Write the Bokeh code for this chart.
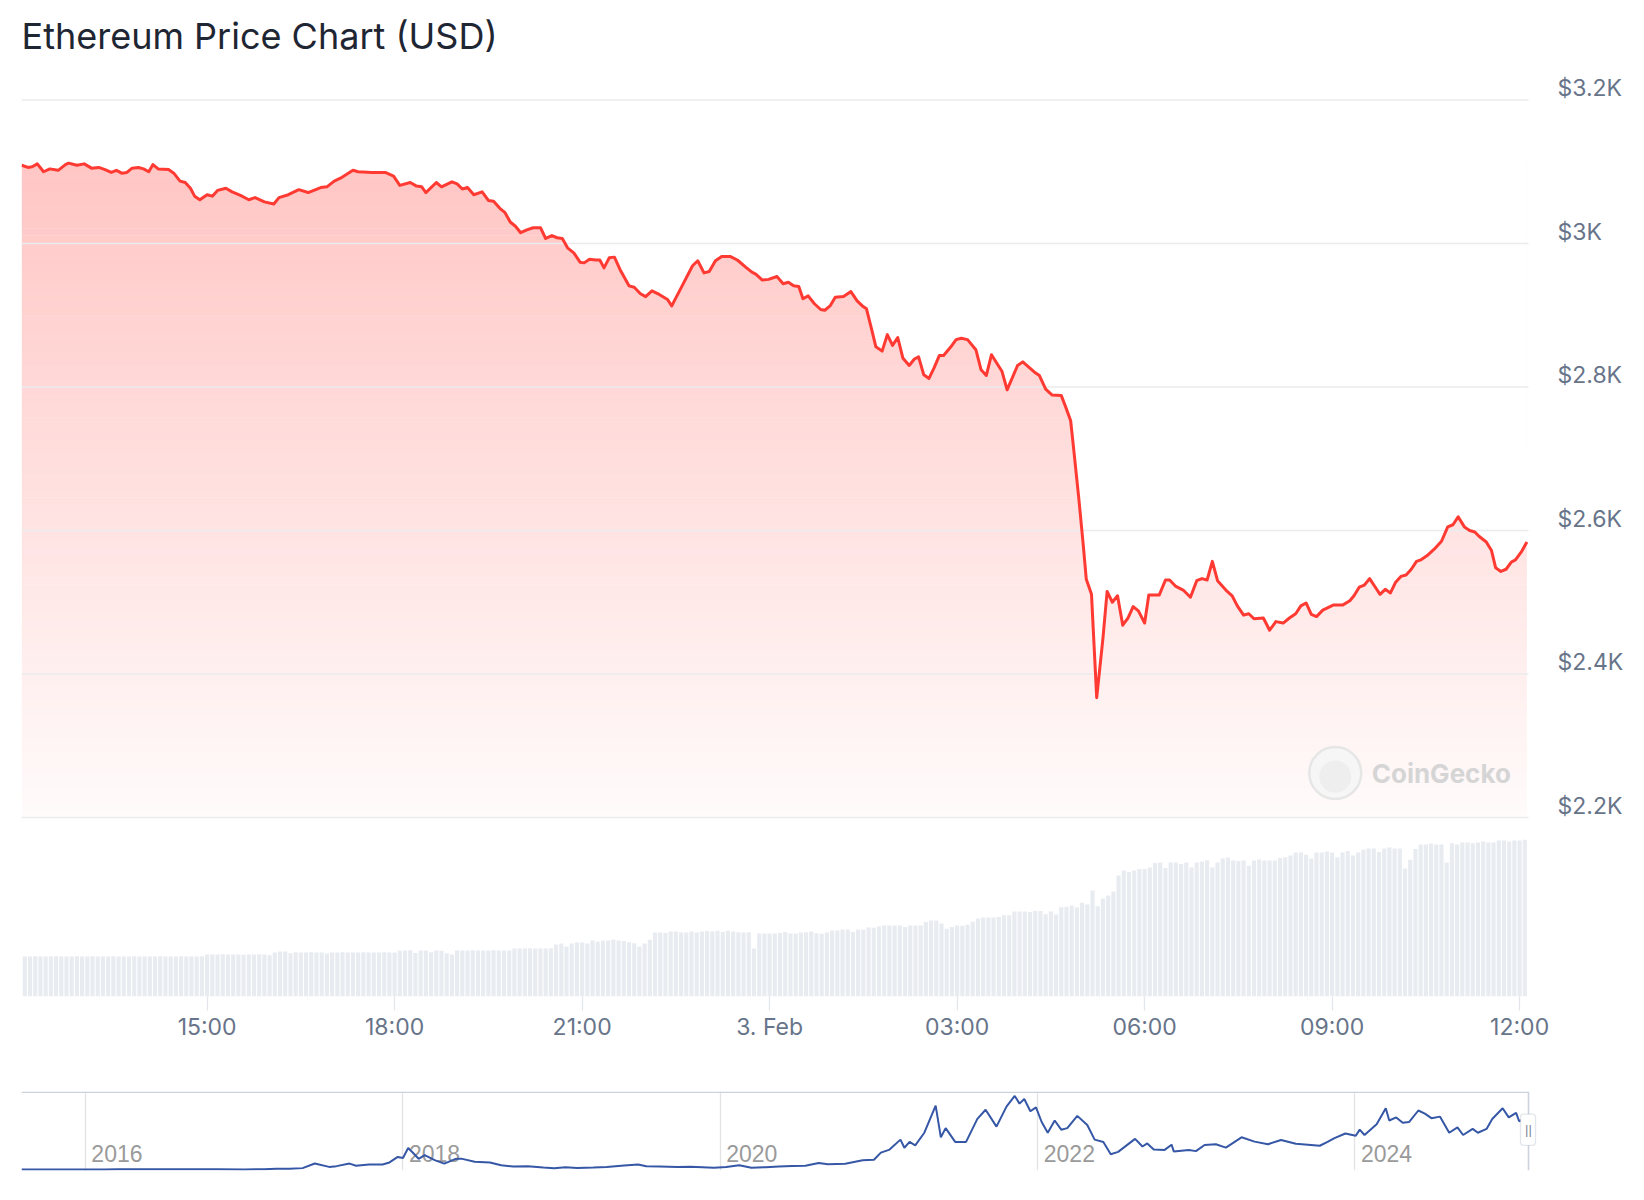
import numpy as np
import pandas as pd
from bokeh.plotting import figure
from bokeh.layouts import column
from bokeh.models import (Range1d, LinearAxis, FixedTicker, CustomJSTickFormatter,
                          Label, BoxAnnotation, Span)
from bokeh.core.properties import value
from bokeh.embed import file_html
from bokeh.resources import INLINE

# ---------------- data ----------------
TITLE = "Ethereum Price Chart (USD)"
START = pd.Timestamp("2025-02-02 12:00")

# minutes after 2 Feb 12:00 and price in USD
price_minutes = [
    2, 8, 12, 17, 23, 29, 37, 44, 47, 55,
    62, 69, 76, 82, 88, 93, 98, 103, 108, 114,
    119, 124, 128, 133, 143, 148, 154, 159, 164, 168,
    173, 180, 185, 190, 198, 204, 212, 220, 226, 235,
    244, 249, 258, 268, 277, 289, 295, 302, 308, 320,
    325, 338, 351, 359, 365, 375, 381, 386, 390, 400,
    405, 415, 420, 425, 430, 436, 444, 450, 455, 461,
    466, 471, 476, 481, 487, 493, 500, 505, 511, 516,
    521, 526, 532, 538, 542, 547, 553, 557, 561, 566,
    571, 577, 585, 590, 596, 601, 607, 614, 622, 626,
    636, 646, 651, 657, 662, 668, 674, 682, 689, 697,
    703, 707, 713, 719, 727, 733, 738, 743, 748, 752,
    757, 763, 769, 773, 778, 783, 791, 798, 804, 809,
    813, 818, 822, 828, 833, 838, 843, 848, 854, 859,
    863, 868, 873, 878, 883, 887, 894, 899, 904, 910,
    918, 923, 928, 933, 943, 948, 958, 963, 974, 979,
    985, 991, 1000, 1004, 1009, 1012, 1017, 1021, 1024, 1029,
    1034, 1040, 1044, 1049, 1054, 1059, 1064, 1069, 1074, 1080,
    1084, 1094, 1100, 1104, 1110, 1117, 1124, 1130, 1135, 1140,
    1145, 1150, 1158, 1164, 1169, 1175, 1180, 1185, 1194, 1200,
    1206, 1213, 1219, 1225, 1230, 1235, 1240, 1245, 1251, 1261,
    1270, 1277, 1281, 1286, 1291, 1296, 1301, 1306, 1311, 1316,
    1321, 1326, 1331, 1336, 1341, 1345, 1352, 1358, 1365, 1371,
    1376, 1381, 1387, 1392, 1397, 1401, 1408, 1413, 1417, 1422,
    1427, 1432, 1436, 1442, 1447,
]
price_usd = [
    3109, 3106, 3107, 3111, 3100, 3104, 3102, 3110, 3112, 3109,
    3111, 3105, 3106, 3103, 3099, 3102, 3098, 3099, 3105, 3106,
    3104, 3100, 3110, 3104, 3103, 3098, 3087, 3085, 3077, 3066,
    3061, 3068, 3066, 3074, 3077, 3072, 3067, 3061, 3064, 3058,
    3055, 3064, 3068, 3075, 3071, 3078, 3079, 3087, 3091, 3102,
    3100, 3099, 3099, 3094, 3081, 3085, 3080, 3079, 3071, 3085,
    3079, 3086, 3083, 3076, 3078, 3068, 3072, 3060, 3059, 3049,
    3043, 3030, 3024, 3015, 3019, 3022, 3022, 3007, 3011, 3008,
    3007, 2994, 2987, 2974, 2973, 2978, 2977, 2977, 2966, 2980,
    2981, 2962, 2941, 2939, 2930, 2926, 2934, 2929, 2922, 2913,
    2941, 2969, 2976, 2959, 2961, 2976, 2982, 2982, 2977, 2967,
    2960, 2957, 2949, 2950, 2954, 2944, 2946, 2941, 2940, 2923,
    2927, 2916, 2908, 2907, 2913, 2925, 2926, 2933, 2920, 2913,
    2909, 2880, 2856, 2850, 2873, 2858, 2869, 2840, 2830, 2839,
    2842, 2817, 2812, 2827, 2844, 2844, 2856, 2866, 2868, 2866,
    2852, 2824, 2816, 2845, 2822, 2796, 2830, 2835, 2821, 2816,
    2797, 2789, 2788, 2773, 2753, 2712, 2642, 2581, 2532, 2511,
    2367, 2450, 2515, 2500, 2509, 2468, 2478, 2494, 2488, 2471,
    2510, 2510, 2531, 2531, 2522, 2517, 2507, 2530, 2533, 2531,
    2557, 2530, 2517, 2509, 2495, 2482, 2484, 2477, 2478, 2461,
    2473, 2471, 2478, 2484, 2495, 2499, 2483, 2480, 2489, 2496,
    2496, 2502, 2509, 2521, 2524, 2533, 2522, 2511, 2518, 2513,
    2528, 2536, 2538, 2546, 2557, 2559, 2566, 2574, 2585, 2605,
    2608, 2619, 2605, 2600, 2598, 2592, 2584, 2572, 2548, 2543,
    2546, 2556, 2559, 2571, 2584,
]

# 24h volume (billion USD), one bar every 5 minutes from 12:05
VOLUME_FIRST_MIN = 5
VOLUME_STEP_MIN = 5
volume_busd = [
    18.0, 18.0, 18.1, 18.0, 18.0, 18.0, 18.1, 18.0, 18.0, 18.0, 18.1, 18.0,
    18.0, 18.1, 18.0, 18.0, 18.0, 18.1, 18.0, 18.0, 18.0, 18.1, 18.0, 18.0,
    18.0, 18.0, 18.1, 18.0, 18.0, 18.0, 18.1, 18.0, 18.0, 18.0, 18.1, 18.9,
    18.9, 18.9, 19.0, 18.9, 18.9, 18.9, 18.8, 18.9, 18.9, 19.0, 18.9, 18.6,
    19.8, 20.3, 20.3, 19.5, 19.9, 19.8, 19.8, 19.9, 19.8, 19.8, 19.4, 19.8,
    19.8, 19.9, 19.8, 19.8, 19.8, 19.9, 19.8, 19.8, 19.8, 19.9, 19.8, 19.8,
    20.7, 20.7, 20.8, 19.6, 20.7, 20.7, 19.9, 20.7, 20.6, 19.5, 18.9, 20.7,
    20.7, 20.7, 20.8, 20.7, 20.7, 20.7, 20.8, 20.7, 20.7, 20.7, 21.6, 21.6,
    21.6, 21.7, 21.6, 21.6, 21.6, 21.7, 23.4, 23.9, 22.5, 23.9, 24.3, 24.3,
    23.9, 25.2, 24.6, 25.2, 25.2, 25.6, 25.2, 25.0, 24.4, 24.0, 22.5, 23.9,
    25.5, 28.8, 28.8, 28.6, 29.2, 29.2, 28.8, 28.8, 29.3, 28.8, 29.2, 29.5,
    29.3, 29.6, 29.0, 29.6, 29.3, 28.9, 28.8, 28.9, 21.6, 28.4, 28.4, 28.4,
    28.4, 28.6, 29.0, 28.4, 28.4, 28.8, 28.9, 29.3, 28.5, 28.2, 28.8, 29.7,
    29.7, 30.1, 30.1, 29.0, 30.1, 30.1, 31.0, 30.9, 31.5, 32.0, 32.0, 32.0,
    32.0, 31.3, 32.0, 32.0, 32.0, 33.5, 34.2, 34.2, 32.9, 30.5, 31.3, 32.0,
    31.8, 32.3, 33.6, 35.1, 35.6, 35.6, 35.6, 35.8, 36.6, 36.6, 38.3, 38.3,
    38.3, 38.0, 38.5, 38.5, 37.0, 38.3, 36.9, 40.2, 40.4, 41.0, 40.1, 42.2,
    41.4, 47.7, 40.6, 44.1, 45.4, 47.2, 54.5, 56.7, 56.0, 56.7, 57.4, 57.4,
    58.1, 60.1, 60.3, 57.8, 60.3, 60.3, 59.6, 60.3, 58.1, 60.3, 60.8, 61.3,
    58.0, 60.3, 62.1, 62.6, 61.2, 61.0, 61.2, 58.8, 61.2, 61.6, 61.2, 61.2,
    61.2, 62.3, 62.7, 63.5, 64.8, 64.8, 63.8, 62.1, 64.8, 64.8, 65.2, 64.8,
    62.6, 64.8, 65.5, 63.4, 64.8, 66.0, 66.6, 66.6, 65.0, 66.6, 67.0, 66.6,
    66.6, 57.6, 61.5, 66.4, 68.4, 68.4, 68.8, 68.4, 68.4, 60.3, 69.0, 68.4,
    69.3, 69.3, 69.0, 69.3, 69.7, 69.3, 69.3, 70.2, 70.2, 69.8, 70.2, 70.2,
    70.5,
]

y_ticks = [2200, 2400, 2600, 2800, 3000, 3200]
y_tick_labels = ["$2.2K", "$2.4K", "$2.6K", "$2.8K", "$3K", "$3.2K"]
x_tick_times = ["2025-02-02 15:00", "2025-02-02 18:00", "2025-02-02 21:00",
                "2025-02-03 00:00", "2025-02-03 03:00", "2025-02-03 06:00",
                "2025-02-03 09:00", "2025-02-03 12:00"]
x_tick_labels = ["15:00", "18:00", "21:00", "3. Feb", "03:00", "06:00", "09:00", "12:00"]

# navigator: full price history
nav_dates = [
    "2015-08-07", "2015-09-01", "2015-11-01", "2016-01-01", "2016-02-15", "2016-03-15",
    "2016-05-01", "2016-06-15", "2016-07-15", "2016-09-01", "2016-11-01", "2017-01-01",
    "2017-02-15", "2017-03-15", "2017-04-15", "2017-05-15", "2017-06-12", "2017-07-15",
    "2017-08-01", "2017-08-31", "2017-09-15", "2017-10-15", "2017-11-15", "2017-12-01",
    "2017-12-20", "2018-01-01", "2018-01-13", "2018-01-25", "2018-02-06", "2018-02-20",
    "2018-03-15", "2018-04-06", "2018-05-01", "2018-05-15", "2018-06-15", "2018-07-20",
    "2018-08-15", "2018-09-12", "2018-10-15", "2018-11-20", "2018-12-15", "2019-01-10",
    "2019-02-06", "2019-03-15", "2019-04-15", "2019-05-25", "2019-06-26", "2019-07-15",
    "2019-08-15", "2019-09-25", "2019-10-25", "2019-12-18", "2020-01-15", "2020-02-14",
    "2020-03-13", "2020-04-15", "2020-05-15", "2020-06-15", "2020-07-15", "2020-08-15",
    "2020-09-05", "2020-10-15", "2020-11-24", "2020-12-20", "2021-01-05", "2021-01-25",
    "2021-02-19", "2021-02-28", "2021-03-12", "2021-03-25", "2021-04-15", "2021-05-11",
    "2021-05-23", "2021-06-03", "2021-06-25", "2021-07-20", "2021-08-15", "2021-09-03",
    "2021-09-28", "2021-10-21", "2021-11-09", "2021-11-20", "2021-12-01", "2021-12-15",
    "2021-12-28", "2022-01-10", "2022-01-24", "2022-02-09", "2022-02-24", "2022-03-10",
    "2022-04-02", "2022-04-25", "2022-05-12", "2022-06-01", "2022-06-18", "2022-07-05",
    "2022-08-13", "2022-08-30", "2022-09-10", "2022-09-25", "2022-10-20", "2022-11-05",
    "2022-11-10", "2022-12-15", "2022-12-31", "2023-01-20", "2023-02-15", "2023-03-10",
    "2023-04-15", "2023-05-15", "2023-06-15", "2023-07-15", "2023-08-18", "2023-09-15",
    "2023-10-12", "2023-10-30", "2023-11-15", "2023-12-10", "2024-01-03", "2024-01-12",
    "2024-01-23", "2024-02-20", "2024-03-12", "2024-03-20", "2024-04-05", "2024-04-20",
    "2024-05-05", "2024-05-26", "2024-06-10", "2024-06-25", "2024-07-15", "2024-08-05",
    "2024-08-24", "2024-09-06", "2024-09-28", "2024-10-10", "2024-10-30", "2024-11-12",
    "2024-12-06", "2024-12-20", "2025-01-06", "2025-01-13", "2025-01-25", "2025-02-02",
    "2025-02-03",
]
nav_prices = [
    2.8, 1.3, 1.0, 0.95, 5, 12,
    9, 19, 12, 12, 10, 8,
    13, 45, 50, 90, 390, 170,
    220, 385, 250, 330, 330, 460,
    820, 750, 1400, 1060, 700, 940,
    610, 380, 680, 710, 500, 460,
    280, 190, 210, 130, 85, 150,
    105, 135, 165, 260, 330, 210,
    200, 165, 180, 120, 165, 275,
    110, 155, 200, 230, 240, 430,
    340, 380, 600, 640, 1100, 1300,
    1950, 1420, 1800, 1580, 2400, 4170,
    2100, 2700, 1800, 1800, 3300, 3900,
    2800, 4100, 4800, 4300, 4600, 3800,
    4050, 3100, 2400, 3200, 2600, 2700,
    3500, 2900, 1950, 1800, 1000, 1150,
    2000, 1500, 1700, 1300, 1280, 1620,
    1180, 1270, 1200, 1600, 1650, 1430,
    2100, 1820, 1650, 1930, 1680, 1620,
    1550, 1800, 2050, 2350, 2200, 2600,
    2250, 2950, 4000, 3200, 3400, 3050,
    3100, 3850, 3650, 3350, 3450, 2400,
    2750, 2250, 2650, 2400, 2650, 3300,
    4000, 3400, 3700, 3150, 3300, 2900,
    2600,
]
nav_years = ["2016", "2018", "2020", "2022", "2024"]

# ---------------- layout / styling constants ----------------
FONT = "Inter"
RED = (255, 58, 51)
W = 1628
PLOT_LEFT, PLOT_RIGHT = 21, 1528          # page x of the plotting area
EXTRA_RIGHT = 12                          # frame reaches a little past the plot area (navigator handle)
FRAME_TOP, FRAME_BOTTOM = 10, 996         # page y of the main frame
GRID_TOP_Y, GRID_BOT_Y = 99.5, 817.0      # page y of the $3.2K and $2.2K grid lines
UPP = 1000.0 / (GRID_BOT_Y - GRID_TOP_Y)  # USD per pixel
Y_TOP = 3200 + (GRID_TOP_Y - FRAME_TOP) * UPP
Y_BOT = 2200 - (FRAME_BOTTOM - GRID_BOT_Y) * UPP
FRAME_H = FRAME_BOTTOM - FRAME_TOP
VOL_PER_PX = 0.45
LABEL_LIFT = 12                           # px the price labels sit above their grid line
MIN_PER_PX = 0.96
AXIS_GREY = "#677489"
TITLE_ANCHOR_Y = 35.3

times = START + pd.to_timedelta(price_minutes, unit="min")
vol_times = START + pd.to_timedelta(
    VOLUME_FIRST_MIN + VOLUME_STEP_MIN * np.arange(len(volume_busd)), unit="min")
x_tick_ms = [int(pd.Timestamp(s).value // 10**6) for s in x_tick_times]

x_left = START + pd.Timedelta(minutes=1.8)
x_plot_right = x_left + pd.Timedelta(minutes=(PLOT_RIGHT - PLOT_LEFT) * MIN_PER_PX)
x_frame_right = x_plot_right + pd.Timedelta(minutes=EXTRA_RIGHT * MIN_PER_PX)

right_border = W - (PLOT_RIGHT + EXTRA_RIGHT)

p = figure(width=W, height=FRAME_BOTTOM + 80, x_axis_type="datetime", y_axis_location=None,
           x_range=Range1d(x_left, x_frame_right), y_range=Range1d(Y_BOT, Y_TOP),
           toolbar_location=None, output_backend="svg",
           min_border_left=PLOT_LEFT, min_border_right=right_border,
           min_border_top=FRAME_TOP, min_border_bottom=80)
p.outline_line_color = None
p.grid.visible = False
p.background_fill_color = "white"
p.extra_y_ranges = {
    "vol": Range1d(0, FRAME_H * VOL_PER_PX),
    "lab": Range1d(Y_BOT - LABEL_LIFT * UPP, Y_TOP - LABEL_LIFT * UPP),
}

# title
p.add_layout(Label(x=x_left, y=3200 + (GRID_TOP_Y - TITLE_ANCHOR_Y) * UPP, text=TITLE,
                   text_font=FONT, text_font_size="36px", text_color="#1f2633",
                   text_align="left", text_baseline="alphabetic"))

# gradient fill under the price line: horizontal colour bands masked above the line
top_price = max(price_usd)
n_bands = 90
edges = np.linspace(2200, top_price, n_bands + 1)
mid = (edges[:-1] + edges[1:]) / 2
alpha = 0.02 + 0.27 * (mid - 2200) / (top_price - 2200)
band_colors = ["#%02x%02x%02x" % (255, int(round(255 - (255 - RED[1]) * a)),
                                  int(round(255 - (255 - RED[2]) * a))) for a in alpha]
p.quad(left=times[0], right=times[-1], bottom=edges[:-1], top=edges[1:] + 0.6,
       fill_color=band_colors, line_color=None)
p.varea(x=times, y1=price_usd, y2=Y_TOP, fill_color="white")

# grid lines across the plotting area
p.segment(x0=[x_left] * len(y_ticks), x1=[x_plot_right] * len(y_ticks),
          y0=y_ticks, y1=y_ticks, line_color="#e9ebee", line_width=1.3)

# volume bars
p.vbar(x=vol_times, top=volume_busd, bottom=0, width=4 * 60 * 1000, y_range_name="vol",
       fill_color="#e8ecf1", line_color=None)

# watermark
wm_x = START + pd.Timedelta(minutes=1263)
p.circle(x=[wm_x], y=[2262], radius=26, radius_units="screen",
         fill_color="#f6f6f6", line_color="#e6e6e6", line_width=2.5)
p.circle(x=[wm_x], y=[2257], radius=16, radius_units="screen",
         fill_color="#eeeeee", line_color=None)
p.add_layout(Label(x=START + pd.Timedelta(minutes=1298), y=2262, text="CoinGecko",
                   text_font=FONT, text_font_size="26px", text_font_style="bold",
                   text_color="#d5d5d5", text_baseline="middle", text_align="left"))

# price line
p.line(times, price_usd, line_color="#ff3a33", line_width=3, line_join="round")

# right price axis
yax = LinearAxis(y_range_name="lab", ticker=FixedTicker(ticks=y_ticks),
                 formatter=CustomJSTickFormatter(
                     args=dict(tv=y_ticks, tl=y_tick_labels),
                     code="const i = tv.indexOf(tick); return i < 0 ? '' : tl[i];"))
yax.axis_line_color = None
yax.major_tick_line_color = None
yax.major_tick_out = 0
yax.major_tick_in = 0
yax.minor_tick_line_color = None
yax.major_label_standoff = 29 - EXTRA_RIGHT
yax.major_label_text_font = FONT
yax.major_label_text_font_size = "23px"
yax.major_label_text_color = AXIS_GREY
p.add_layout(yax, "right")

# bottom time axis
xa = p.xaxis[0]
xa.ticker = FixedTicker(ticks=x_tick_ms)
xa.formatter = CustomJSTickFormatter(
    args=dict(tv=x_tick_ms, tl=x_tick_labels),
    code="const i = tv.indexOf(tick); return i < 0 ? '' : tl[i];")
xa.axis_line_color = None
xa.major_tick_line_color = "#e3e6ea"
xa.major_tick_line_width = 1.3
xa.major_tick_in = 0
xa.major_tick_out = 14
xa.minor_tick_line_color = None
xa.major_label_standoff = 2
xa.major_label_text_font = FONT
xa.major_label_text_font_size = "23px"
xa.major_label_text_color = AXIS_GREY

# ---------------- navigator ----------------
nav_t = pd.to_datetime(nav_dates)
nav_start = nav_t[0]
nav_end = times[-1]
NAV_Y0, NAV_Y1 = -65, 5090
NAV_W = PLOT_RIGHT - PLOT_LEFT
nav_ms_per_px = (nav_end - nav_start) / pd.Timedelta(milliseconds=1) / NAV_W
nav_upp = (NAV_Y1 - NAV_Y0) / 79.0
year_t = pd.to_datetime([y + "-01-01" for y in nav_years])
year_ms = [int(t.value // 10**6) for t in year_t]
OUTLINE = "#ccd3dd"

p2 = figure(width=W, height=110, x_axis_type="datetime", x_axis_location=None,
            y_axis_location=None,
            x_range=Range1d(nav_start, nav_end + pd.Timedelta(milliseconds=EXTRA_RIGHT * nav_ms_per_px)),
            y_range=Range1d(NAV_Y0, NAV_Y1), toolbar_location=None, output_backend="svg",
            min_border_left=PLOT_LEFT, min_border_right=right_border,
            min_border_top=15, min_border_bottom=16)
p2.outline_line_color = None
p2.ygrid.visible = False
p2.xgrid.ticker = FixedTicker(ticks=year_ms)
p2.xgrid.grid_line_color = "#e3e3e3"
p2.xgrid.grid_line_width = 1.3

# outline: top edge up to the end of data, and the right edge at the end of data
p2.segment(x0=[nav_start], x1=[nav_end], y0=[NAV_Y1 - 0.8 * nav_upp], y1=[NAV_Y1 - 0.8 * nav_upp],
           line_color=OUTLINE, line_width=1.6)
p2.add_layout(Span(location=nav_end, dimension="height", line_color=OUTLINE, line_width=1.6))

p2.text(x=year_t, y=[1050] * len(nav_years), text=nav_years, x_offset=6,
        text_baseline="middle", text_align="left", text_font=value("Liberation Sans"),
        text_font_size="23px", text_color="#9a9a9a")
p2.line(nav_t, nav_prices, line_color="#3557a6", line_width=2)

p2.add_layout(BoxAnnotation(left=nav_end - pd.Timedelta(milliseconds=8 * nav_ms_per_px),
                            right=nav_end + pd.Timedelta(milliseconds=7 * nav_ms_per_px),
                            top=3612, bottom=1577, fill_color="white", fill_alpha=1,
                            line_color="#a3abb8", line_width=1.3, border_radius=3,
                            level="overlay"))
p2.add_layout(Label(x=nav_end, y=2600, text="||", text_font="Liberation Sans",
                    text_font_size="13px", text_color="#7d8592",
                    text_align="center", text_baseline="middle", level="overlay"))

layout = column(p, p2)
open("out.html", "w").write(file_html(layout, INLINE))
